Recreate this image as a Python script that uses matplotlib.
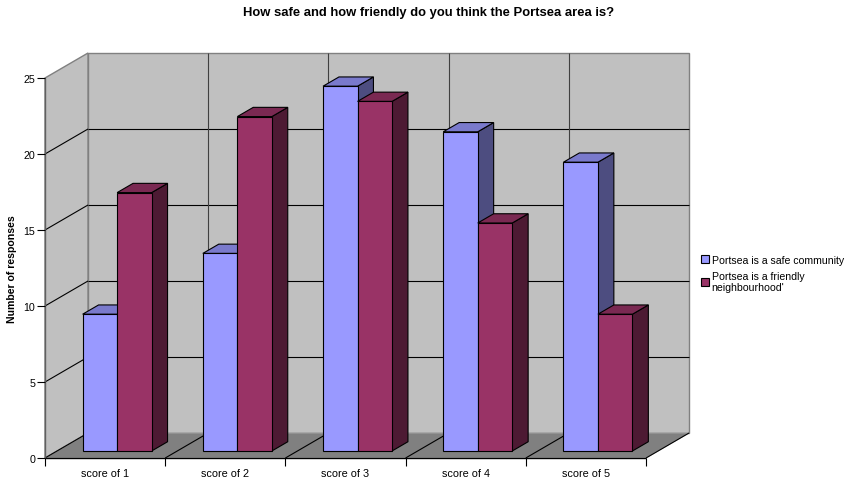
import matplotlib
matplotlib.use("Agg")
import matplotlib.pyplot as plt
from matplotlib.patches import Polygon, Patch

plt.rcParams['font.family'] = ['Liberation Sans', 'DejaVu Sans']

# Survey data
categories = ["score of 1", "score of 2", "score of 3", "score of 4", "score of 5"]
safe_counts = [9, 13, 24, 21, 19]
friendly_counts = [17, 22, 23, 15, 9]
series_labels = ["Portsea is a safe community", "Portsea is a friendly\nneighbourhood'"]
y_ticks = [0, 5, 10, 15, 20, 25]

title = "How safe and how friendly do you think the Portsea area is?"
y_label = "Number of responses"

# Colours (front, top, side) for each series
safe_cols = ("#9999FF", "#7A7ACC", "#4D4D80")
friendly_cols = ("#993366", "#7A2952", "#4D1A33")
wall_col = "#C0C0C0"
floor_col = "#808080"

W, H = 847, 485
fig = plt.figure(figsize=(W / 100, H / 100), dpi=100)
ax = fig.add_axes([45 / W, 26 / H, 601 / W, 380 / H])
n = len(categories)
ymax = 25
ax.set_xlim(0, n)
ax.set_ylim(0, ymax)

# depth offset of the back plane, in data units
DX = 43 / 120.2
DY = 25 / 15.2


def proj(x, y, z):
    return (x + z * DX, y + z * DY)


def poly(pts, fc, ec="black", lw=0.8, z=1):
    p = Polygon([proj(*q) for q in pts], closed=True, facecolor=fc,
                edgecolor=ec, linewidth=lw, clip_on=False, zorder=z,
                joinstyle="miter")
    ax.add_patch(p)


def line(p0, p1, color="black", lw=0.8, z=1.5):
    a, b = proj(*p0), proj(*p1)
    ax.plot([a[0], b[0]], [a[1], b[1]], color=color, lw=lw,
            clip_on=False, zorder=z, solid_capstyle="butt")


# back wall
poly([(0, 0, 1), (n, 0, 1), (n, ymax, 1), (0, ymax, 1)], wall_col,
     ec="#808080", lw=1.0, z=1)
for v in y_ticks[1:-1]:
    line((0, v, 1), (n, v, 1), z=1.2)
for i in range(1, n):
    line((i, 0, 1), (i, ymax, 1), color="#404040", z=1.2)

# side wall
poly([(0, 0, 0), (0, 0, 1), (0, ymax, 1), (0, ymax, 0)], wall_col,
     ec="#808080", lw=1.0, z=1)
for v in y_ticks[1:-1]:
    line((0, v, 0), (0, v, 1), z=1.2)

# floor
poly([(0, 0, 0), (n, 0, 0), (n, 0, 1), (0, 0, 1)], floor_col,
     ec="#A0A0A0", lw=0.8, z=1.3)
for i in range(0, n + 1):
    line((i, 0, 0), (i, 0, 1), z=1.4)
line((0, 0, 0), (n, 0, 0), lw=1.0, z=1.45)
line((0, 0, 0), (0, ymax, 0), color="#606060", lw=1.0, z=1.45)

# bars
bw = 0.287
z0, z1 = 0.28, 0.65
for i in range(n):
    c = i + 0.5
    for x0, v, cols in ((c - bw, safe_counts[i], safe_cols),
                        (c, friendly_counts[i], friendly_cols)):
        x1 = x0 + bw
        poly([(x1, 0, z0), (x1, 0, z1), (x1, v, z1), (x1, v, z0)], cols[2], z=2)
        poly([(x0, v, z0), (x1, v, z0), (x1, v, z1), (x0, v, z1)], cols[1], z=2)
        poly([(x0, 0, z0), (x1, 0, z0), (x1, v, z0), (x0, v, z0)], cols[0], z=2)

# axes, ticks and labels
for s in ax.spines.values():
    s.set_visible(False)
ax.patch.set_visible(False)
ax.set_yticks(y_ticks)
ax.set_yticklabels([str(t) for t in y_ticks], fontsize=7.7)
ax.tick_params(axis="y", length=6, width=0.8, direction="out", pad=1)
ax.set_xticks([i + 0.5 for i in range(n)])
ax.set_xticklabels(categories, fontsize=7.8)
ax.set_xticks(list(range(n + 1)), minor=True)
ax.tick_params(axis="x", which="major", length=0, pad=7.5)
ax.tick_params(axis="x", which="minor", length=6, width=0.8, direction="out")

fig.text(429 / W, 1 - 13 / H, title, ha="center", va="center",
         fontsize=9.4, fontweight="bold")
fig.text(12 / W, 1 - 269 / H, y_label, ha="center", va="center",
         rotation=90, fontsize=7.6, fontweight="bold")

handles = [Patch(facecolor=safe_cols[0], edgecolor="black", lw=0.8),
           Patch(facecolor=friendly_cols[0], edgecolor="black", lw=0.8)]
fig.legend(handles, series_labels, loc="upper left",
           bbox_to_anchor=(701 / W, 1 - 256 / H), frameon=False,
           fontsize=7.6, handlelength=0.75, handleheight=0.75,
           handletextpad=0.25, borderpad=0, borderaxespad=0,
           labelspacing=0.55)

fig.savefig("out.png", dpi=100)
